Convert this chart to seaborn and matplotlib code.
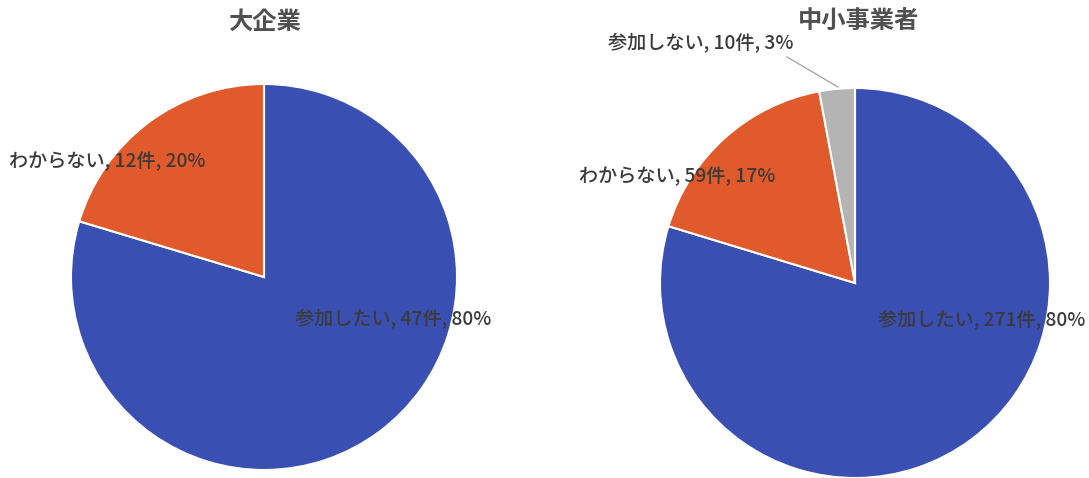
import matplotlib
matplotlib.use("Agg")
import matplotlib.pyplot as plt
import seaborn as sns

sns.set_theme(style="white")
plt.rcParams['font.family'] = ['Noto Sans CJK JP', 'DejaVu Sans']

# Data
titles = ["大企業", "中小事業者"]
large_categories = ["参加したい", "わからない"]
large_counts = [47, 12]
small_categories = ["参加したい", "わからない", "参加しない"]
small_counts = [271, 59, 10]

palette = {"参加したい": "#3A4FB2", "わからない": "#E05A2B", "参加しない": "#B4B4B4"}
text_color = "#3A3A3A"

fig = plt.figure(figsize=(10.89, 4.78), dpi=100)
fig.patch.set_facecolor("white")

axes_rects = [
    [71/1089, (478-470)/478, 386/1089, 386/478],
    [660/1089, (478-478)/478, 390/1089, 390/478],
]
label_pos = [
    {"参加したい": (0.67, -0.22), "わからない": (-0.81, 0.60)},
    {"参加したい": (0.65, -0.19), "わからない": (-0.91, 0.55), "参加しない": (-0.79, 1.23)},
]
title_x = [264/1089, 858/1089]

datasets = [(large_categories, large_counts), (small_categories, small_counts)]

for i, (cats, counts) in enumerate(datasets):
    ax = fig.add_axes(axes_rects[i])
    total = sum(counts)
    colors = [palette[c] for c in cats]
    ax.pie(counts, colors=colors, startangle=90, counterclock=False,
           wedgeprops=dict(edgecolor="white", linewidth=1.5))
    ax.set_xlim(-1, 1)
    ax.set_ylim(-1, 1)
    ax.set_aspect("equal")
    ax.axis("off")
    for c, n in zip(cats, counts):
        pct = round(100 * n / total)
        x, y = label_pos[i][c]
        ax.text(x, y, f"{c}, {n}件, {pct}%", ha="center", va="center",
                fontsize=13.8, fontweight="medium", color=text_color, clip_on=False)
    if i == 1:
        ax.plot([-0.35, -0.087], [1.16, 1.005], color="#A0A0A0", lw=0.9, clip_on=False)
    fig.text(title_x[i], 1 - 22/478, titles[i], ha="center", va="center",
             fontsize=17.5, fontweight="bold", color="#505050")

fig.savefig("out.png", dpi=100, facecolor="white")
